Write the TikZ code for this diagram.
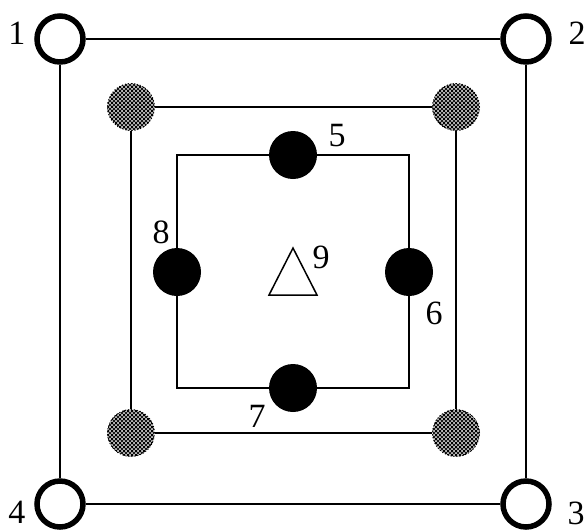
\documentclass[tikz,border=0pt]{standalone}
\usepackage{fontspec}
\setmainfont{Liberation Serif}
\usetikzlibrary{patterns}

% denser dot pattern for the grey nodes
\pgfdeclarepatternformonly{heavydots}{\pgfpoint{-1pt}{-1pt}}{\pgfpoint{5pt}{5pt}}{\pgfpoint{4pt}{4pt}}{%
  \pgfpathcircle{\pgfpoint{0pt}{0pt}}{1.35pt}
  \pgfpathcircle{\pgfpoint{2pt}{2pt}}{1.35pt}
  \pgfpathcircle{\pgfpoint{4pt}{0pt}}{1.35pt}
  \pgfpathcircle{\pgfpoint{0pt}{4pt}}{1.35pt}
  \pgfpathcircle{\pgfpoint{4pt}{4pt}}{1.35pt}
  \pgfusepath{fill}}

\begin{document}
\begin{tikzpicture}[x=1pt,y=-1pt,line width=1.5pt,
    opencirc/.style={circle,draw,line width=5.5pt,fill=white,minimum size=46pt,inner sep=0pt},
    dotcirc/.style={circle,fill=black,minimum size=48pt,inner sep=0pt},
    hatchcirc/.style={circle,draw,dotted,line width=1pt,pattern=heavydots,minimum size=47pt,inner sep=0pt},
    lbl/.style={inner sep=0pt,font=\fontsize{34}{34}\selectfont}]
    \useasboundingbox (0,0) rectangle (588,531);

    % Outer square
    \node[opencirc] (c1) at (60,39) {};
    \node[opencirc] (c2) at (526,39) {};
    \node[opencirc] (c3) at (526,504) {};
    \node[opencirc] (c4) at (60,504) {};
    \draw (c1) -- (c2) -- (c3) -- (c4) -- (c1);

    % Middle square
    \node[hatchcirc] (g1) at (131,107) {};
    \node[hatchcirc] (g2) at (456,107) {};
    \node[hatchcirc] (g3) at (456,433) {};
    \node[hatchcirc] (g4) at (131,433) {};
    \draw (g1) -- (g2) -- (g3) -- (g4) -- (g1);

    % Inner square
    \coordinate (i1) at (177,155);
    \coordinate (i2) at (409,155);
    \coordinate (i3) at (409,388);
    \coordinate (i4) at (177,388);
    \draw (i1) -- (i2) -- (i3) -- (i4) -- cycle;
    \node[dotcirc] (n5) at (293,155) {};
    \node[dotcirc] (n6) at (409,272) {};
    \node[dotcirc] (n7) at (293,388) {};
    \node[dotcirc] (n8) at (177,272) {};

    % Centre triangle
    \coordinate (t9) at (293,248);
    \draw (269,295) -- (t9) -- (317,295) -- cycle;

    % Labels
    \node[lbl] (l1) at (17,33) {1};
    \node[lbl] (l2) at (577,33) {2};
    \node[lbl] (l3) at (576,513) {3};
    \node[lbl] (l4) at (17,512) {4};
    \node[lbl] (l5) at (337,136) {5};
    \node[lbl] (l6) at (434,313) {6};
    \node[lbl] (l7) at (257,416) {7};
    \node[lbl] (l8) at (161,232) {8};
    \node[lbl] (l9) at (321,257) {9};
\end{tikzpicture}
\end{document}
